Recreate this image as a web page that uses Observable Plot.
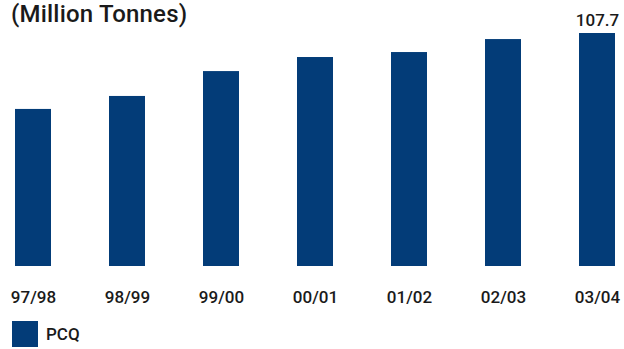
<!DOCTYPE html>
<html>
<head>
<meta charset="utf-8">
<script src="https://cdn.jsdelivr.net/npm/d3@7"></script>
<script src="https://cdn.jsdelivr.net/npm/@observablehq/plot@0.6"></script>
<style>
  html, body { margin: 0; padding: 0; background: #fff; }
  body { width: 624px; height: 349px; overflow: hidden; font-family: Roboto, "Noto Sans", sans-serif; color: #1a1a1a; }
  #wrap { position: relative; width: 624px; }
  #title { position: absolute; left: 11px; top: 0; font-size: 24px; font-weight: 500; line-height: normal; letter-spacing: 0.2px; }
  #chart svg { display: block; }
  #legend { display: flex; align-items: center; margin-left: 12px; margin-top: 11px; font-size: 17px; font-weight: 500; }
  #legend .swatch { width: 26px; height: 26px; background: #033c78; margin-right: 8px; }
</style>
</head>
<body>
<div id="wrap">
  <div id="title">(Million Tonnes)</div>
  <div id="chart"></div>
  <div id="legend"><span class="swatch"></span><span>PCQ</span></div>
</div>
<script>
// Production per crop year, million tonnes
const years = ["97/98", "98/99", "99/00", "00/01", "01/02", "02/03", "03/04"];
const pcq = [72.6, 78.6, 90.1, 96.6, 98.9, 104.9, 107.7];
// Only the latest year carries a value label
const labelled = ["03/04"];

const data = years.map((year, i) => ({year, value: pcq[i]}));
const barColor = "#033c78";

const chart = Plot.plot({
  width: 624,
  height: 310,
  marginTop: 33,
  marginBottom: 44,
  marginLeft: 12,
  marginRight: 7,
  style: {fontFamily: "Roboto, 'Noto Sans', sans-serif", fontSize: "17px", fontWeight: 500, color: "#1a1a1a", background: "#fff"},
  x: {domain: years, paddingInner: 0.62, paddingOuter: 0},
  y: {domain: [0, d3.max(pcq)], axis: null},
  marks: [
    Plot.barY(data, {x: "year", y: "value", fill: barColor}),
    Plot.text(data.filter(d => labelled.includes(d.year)), {
      x: "year", y: "value", text: d => d.value.toFixed(1),
      lineAnchor: "bottom", dy: -8, fontSize: 17, fontWeight: 500, fill: "#1a1a1a"
    }),
    Plot.axisX({tickSize: 0, tickPadding: 24, label: null, fontSize: 17, fontWeight: 500})
  ]
});
document.getElementById("chart").appendChild(chart);
</script>
</body>
</html>
